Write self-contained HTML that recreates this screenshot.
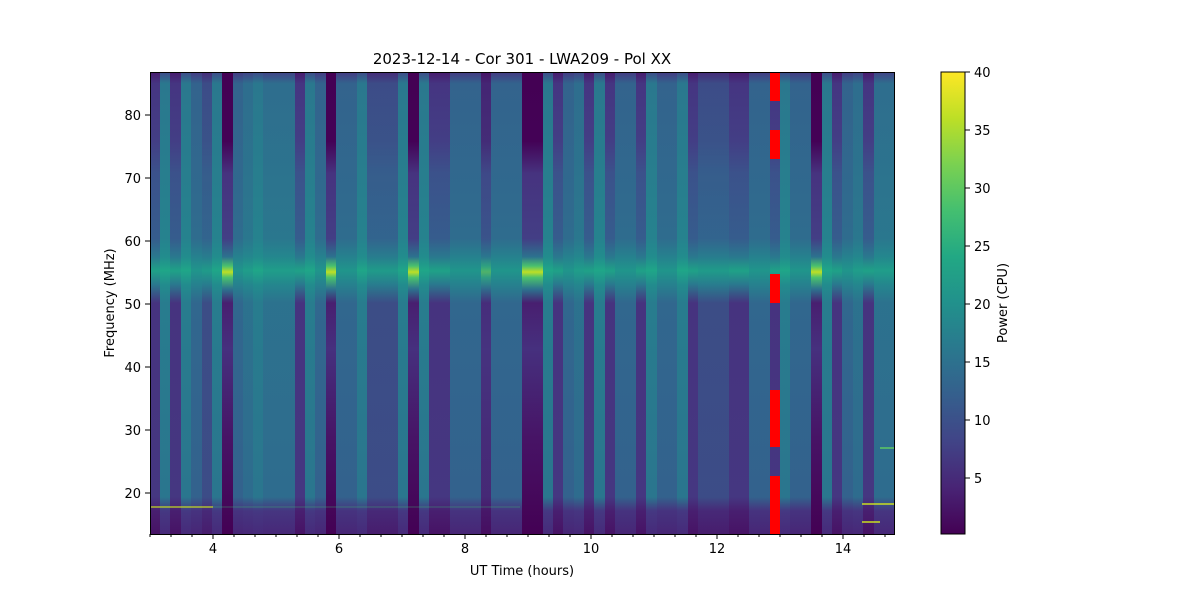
<!DOCTYPE html>
<html><head><meta charset="utf-8"><style>
html,body{margin:0;padding:0;background:#fff;}
svg text{font-family:"DejaVu Sans","Liberation Sans",sans-serif;fill:#000;}
</style></head><body>
<svg id="s" width="1200" height="600" xmlns="http://www.w3.org/2000/svg">
<defs>
<linearGradient id="g3" x1="0" y1="0" x2="0" y2="1">
<stop offset="0" stop-color="#3e4a89"/><stop offset="0.025" stop-color="#2a788e"/>
<stop offset="0.36" stop-color="#26828e"/><stop offset="0.4" stop-color="#228c8d"/>
<stop offset="0.43" stop-color="#1fa688"/><stop offset="0.46" stop-color="#228c8d"/>
<stop offset="0.5" stop-color="#287c8e"/><stop offset="0.92" stop-color="#2a768e"/>
<stop offset="0.95" stop-color="#453882"/><stop offset="1" stop-color="#472a7a"/></linearGradient>
<linearGradient id="g2" x1="0" y1="0" x2="0" y2="1">
<stop offset="0" stop-color="#443a83"/><stop offset="0.025" stop-color="#33638d"/>
<stop offset="0.36" stop-color="#2f6c8e"/><stop offset="0.4" stop-color="#26818e"/>
<stop offset="0.43" stop-color="#20958b"/><stop offset="0.46" stop-color="#26818e"/>
<stop offset="0.5" stop-color="#31678e"/><stop offset="0.92" stop-color="#33628d"/>
<stop offset="0.95" stop-color="#46337f"/><stop offset="1" stop-color="#472676"/></linearGradient>
<linearGradient id="g1" x1="0" y1="0" x2="0" y2="1">
<stop offset="0" stop-color="#481b6d"/><stop offset="0.025" stop-color="#453581"/>
<stop offset="0.15" stop-color="#433e85"/><stop offset="0.22" stop-color="#3b528b"/>
<stop offset="0.36" stop-color="#365c8d"/><stop offset="0.4" stop-color="#2a788e"/>
<stop offset="0.43" stop-color="#1fa187"/><stop offset="0.46" stop-color="#2a788e"/>
<stop offset="0.5" stop-color="#46337f"/><stop offset="0.92" stop-color="#453781"/>
<stop offset="0.95" stop-color="#481f70"/><stop offset="1" stop-color="#471365"/></linearGradient>
<linearGradient id="g0" x1="0" y1="0" x2="0" y2="1">
<stop offset="0" stop-color="#440154"/><stop offset="0.15" stop-color="#440256"/>
<stop offset="0.22" stop-color="#46337f"/><stop offset="0.36" stop-color="#433e85"/>
<stop offset="0.4" stop-color="#2c728e"/><stop offset="0.42" stop-color="#4ac16d"/>
<stop offset="0.433" stop-color="#bddf26"/><stop offset="0.445" stop-color="#4ac16d"/>
<stop offset="0.47" stop-color="#2c728e"/><stop offset="0.5" stop-color="#481f70"/>
<stop offset="0.6" stop-color="#46307e"/><stop offset="0.8" stop-color="#471365"/>
<stop offset="1" stop-color="#440154"/></linearGradient>
<linearGradient id="cb" x1="0" y1="1" x2="0" y2="0">
<stop offset="0" stop-color="#440154"/><stop offset="0.1" stop-color="#482475"/>
<stop offset="0.2" stop-color="#414487"/><stop offset="0.3" stop-color="#355f8d"/>
<stop offset="0.4" stop-color="#2a788e"/><stop offset="0.5" stop-color="#21918c"/>
<stop offset="0.6" stop-color="#22a884"/><stop offset="0.7" stop-color="#44bf70"/>
<stop offset="0.8" stop-color="#7ad151"/><stop offset="0.9" stop-color="#bddf26"/>
<stop offset="1" stop-color="#fde725"/></linearGradient>
</defs>
<g id="cols"></g>
<g fill="#ff0000">
<rect x="770" y="72" width="10" height="29"/><rect x="770" y="130" width="10" height="29"/>
<rect x="770" y="274" width="10" height="29"/><rect x="770" y="390" width="10" height="57"/>
<rect x="770" y="476" width="10" height="58"/></g>
<g stroke-width="1.5">
<line x1="150" y1="507" x2="213" y2="507" stroke="#c8e020" opacity="0.8"/>
<line x1="213" y1="507" x2="520" y2="507" stroke="#3dbc74" opacity="0.4" stroke-width="1"/>
<line x1="862" y1="504" x2="894" y2="504" stroke="#c8e020"/>
<line x1="880" y1="448" x2="894" y2="448" stroke="#5ec962"/>
<line x1="862" y1="522" x2="880" y2="522" stroke="#c8e020"/>
</g>
<rect x="150.5" y="72.5" width="744" height="462" fill="none" stroke="#000"/>
<g id="ticks" stroke="#000"></g>
<text x="522" y="64" font-size="15" text-anchor="middle">2023-12-14 - Cor 301 - LWA209 - Pol XX</text>
<text x="522" y="575" font-size="13" text-anchor="middle">UT Time (hours)</text>
<text transform="translate(114,303) rotate(-90)" font-size="13" text-anchor="middle">Frequency (MHz)</text>
<rect x="941" y="72" width="24" height="462" fill="url(#cb)" stroke="#000"/>
<text transform="translate(1007,303) rotate(-90)" font-size="13" text-anchor="middle">Power (CPU)</text>
</svg>
<script>
var ns="http://www.w3.org/2000/svg";
function el(p,t,a,txt){var e=document.createElementNS(ns,t);for(var k in a)e.setAttribute(k,a[k]);if(txt)e.textContent=txt;p.appendChild(e);return e;}
var cols=[[150,160,1],[160,170,3],[170,181,1],[181,191,3],[191,202,2],[202,212,1.5],[212,222,3],[222,233,0],[233,243,2],[243,253,2.5],[253,263,3],[263,295,2.5],[295,305,1],[305,315,3],[315,326,2],[326,336,0],[336,357,2],[357,367,3],[367,398,1.5],[398,408,3],[408,419,0],[419,429,3],[429,450,1],[450,481,2],[481,491,0.7],[491,522,2],[522,543,0],[543,553,3],[553,563,1],[563,574,2],[574,584,2.5],[584,594,1],[594,605,3],[605,615,1],[615,636,2],[636,646,1],[646,657,3],[657,677,2],[677,688,3],[688,698,1],[698,729,1.5],[729,749,1],[749,770,2],[770,780,1],[780,790,3],[790,811,2],[811,822,0],[822,832,3],[832,842,1],[842,853,2],[853,863,2.5],[863,874,1],[874,894,2.5]];
var g=document.getElementById('cols');
cols.forEach(function(c){var l=c[2];var base=Math.floor(l);
el(g,'rect',{x:c[0],y:72,width:c[1]-c[0]+0.5,height:462,fill:'url(#g'+base+')'});
if(l>base)el(g,'rect',{x:c[0],y:72,width:c[1]-c[0]+0.5,height:462,fill:'url(#g'+(base+1)+')',opacity:l-base});});
var t=document.getElementById('ticks');var svg=document.getElementById('s');
for(var h=3;h<=14.8;h+=1/3){var x=150+(h-3)*63;var maj=Math.abs(h-Math.round(h))<0.01&&Math.round(h)%2==0;
el(t,'line',{x1:x,x2:x,y1:534,y2:534+(maj?5:3)});
if(maj)el(svg,'text',{x:x,y:553,'font-size':13,'text-anchor':'middle'},String(Math.round(h)));}
for(var f=20;f<=80;f+=10){var y=115+(80-f)*6.3;el(t,'line',{x1:150,x2:145,y1:y,y2:y});
el(svg,'text',{x:141,y:y+5,'font-size':13,'text-anchor':'end'},String(f));}
for(var v=5;v<=40;v+=5){var y=72+(40-v)*11.6;el(t,'line',{x1:965,x2:970,y1:y,y2:y});
el(svg,'text',{x:974,y:y+5,'font-size':13},String(v));}
</script>
</body></html>
